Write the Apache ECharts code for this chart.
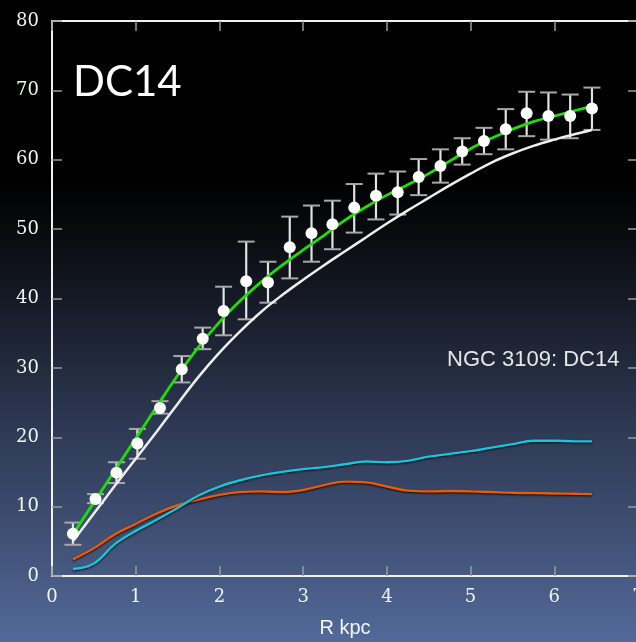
<!DOCTYPE html>
<html>
<head>
<meta charset="utf-8">
<script src="https://cdn.jsdelivr.net/npm/echarts@6/dist/echarts.min.js"></script>
<style>
  html, body { margin: 0; padding: 0; background: #000; }
  #chart { width: 636px; height: 642px; }
</style>
</head>
<body>
<div id="chart"></div>
<script>
// observed points: radius (kpc), velocity, error bar bottom / top
var radius = [0.25, 0.52, 0.77, 1.02, 1.29, 1.55, 1.80, 2.05, 2.32, 2.58, 2.84, 3.10, 3.35,
              3.61, 3.87, 4.13, 4.38, 4.64, 4.90, 5.16, 5.42, 5.67, 5.93, 6.19, 6.45];
var velocity = [6.1, 11.1, 14.9, 19.1, 24.2, 29.8, 34.2, 38.2, 42.5, 42.3, 47.4, 49.4, 50.7,
                53.1, 54.8, 55.3, 57.5, 59.1, 61.2, 62.7, 64.4, 66.7, 66.3, 66.3, 67.4];
var errLow = [4.5, 10.5, 13.4, 16.9, 23.4, 27.9, 32.7, 34.7, 37.0, 39.4, 42.9, 45.3, 47.1,
              49.5, 51.4, 52.1, 54.9, 56.7, 59.3, 60.8, 61.5, 63.4, 62.9, 63.1, 64.3];
var errHigh = [7.7, 11.8, 16.4, 21.2, 25.2, 31.7, 35.8, 41.7, 48.2, 45.3, 51.8, 53.4, 54.1,
               56.5, 58.0, 58.3, 60.1, 61.5, 63.1, 64.6, 67.3, 69.8, 69.7, 69.4, 70.4];

// model curves sampled on a common radius grid
var curveR = [0.25, 0.5, 0.75, 1, 1.25, 1.5, 1.75, 2, 2.25, 2.5, 2.75, 3, 3.25, 3.5, 3.75,
              4, 4.25, 4.5, 4.75, 5, 5.25, 5.5, 5.75, 6, 6.25, 6.45];
var fitTotal = [6.0, 10.6, 15.2, 19.8, 24.4, 28.9, 33.0, 36.6, 39.7, 42.4, 44.8, 47.0, 49.1,
                51.3, 53.2, 54.9, 56.4, 58.0, 59.8, 61.6, 63.1, 64.4, 65.5, 66.3, 67.1, 67.7];
var haloCurve = [5.0, 9.0, 13.0, 16.9, 20.8, 24.8, 28.7, 32.2, 35.3, 38.1, 40.5, 42.7, 44.8,
                 46.8, 48.8, 50.8, 52.7, 54.5, 56.3, 58.0, 59.6, 60.9, 62.0, 62.9, 63.7, 64.3];
var gasCurve = [1.0, 1.8, 4.6, 6.5, 8.1, 9.8, 11.6, 12.9, 13.8, 14.5, 15.0, 15.4, 15.7,
                16.1, 16.5, 16.4, 16.6, 17.2, 17.6, 18.0, 18.5, 19.0, 19.5, 19.5, 19.4, 19.4];
var starCurve = [2.4, 4.0, 6.0, 7.5, 9.0, 10.2, 11.0, 11.7, 12.1, 12.2, 12.1, 12.4, 13.1,
                 13.6, 13.5, 12.9, 12.3, 12.2, 12.25, 12.2, 12.1, 12.0, 11.95, 11.9, 11.85, 11.8];

var xTicks = [0, 7, 1];   // min, max, step
var yTicks = [0, 80, 10];

function pairs(xs, ys) {
  return xs.map(function (x, i) { return [x, ys[i]]; });
}

var chart = echarts.init(document.getElementById('chart'));

function axisLine() {
  return { onZero: false, lineStyle: { color: '#f2f2f2', width: 2 } };
}
function axisTick() {
  return { inside: true, length: 10, lineStyle: { color: '#9a9a9a', width: 1.5 } };
}
var labelStyle = { color: '#eef6ee', fontFamily: 'DejaVu Serif', fontSize: 18 };

function curve(name, data, color, width, withShadow) {
  var ls = { color: color, width: width };
  if (withShadow) {
    ls.shadowColor = 'rgba(0,0,0,0.85)';
    ls.shadowBlur = 2;
    ls.shadowOffsetY = 1;
  }
  return {
    name: name, type: 'line', data: pairs(curveR, data), smooth: 0.4,
    symbol: 'none', lineStyle: ls, z: 3, silent: true
  };
}

option = {
  backgroundColor: {
    type: 'linear', x: 0, y: 0, x2: 0, y2: 1,
    colorStops: [
      { offset: 0, color: '#000000' },
      { offset: 0.28, color: '#000000' },
      { offset: 0.405, color: '#0e1118' },
      { offset: 0.514, color: '#1b2130' },
      { offset: 0.67, color: '#2e3a55' },
      { offset: 0.825, color: '#3f4f72' },
      { offset: 1, color: '#52699a' }
    ]
  },
  animation: false,
  grid: { left: 52, right: -2, top: 21, bottom: 66, outerBoundsMode: 'none', containLabel: false },
  graphic: [
    { type: 'text', left: 73, top: 61, z: 10,
      style: { text: 'DC14', fill: '#ffffff', font: '42px Lato' } },
    { type: 'text', left: 447, top: 349, z: 10,
      style: { text: 'NGC 3109: DC14', fill: '#e6e6e6', font: '22px "Liberation Sans"' } }
  ],
  xAxis: [
    {
      type: 'value', position: 'bottom', min: xTicks[0], max: xTicks[1], interval: xTicks[2],
      axisLine: axisLine(), axisTick: axisTick(), splitLine: { show: false },
      axisLabel: Object.assign({ margin: 12 }, labelStyle),
      name: 'R kpc', nameLocation: 'middle', nameGap: 42,
      nameTextStyle: { color: '#f2f6f2', fontFamily: 'Liberation Sans', fontSize: 20 }
    },
    {
      type: 'value', position: 'top', min: xTicks[0], max: xTicks[1], interval: xTicks[2],
      axisLine: axisLine(), axisTick: axisTick(), splitLine: { show: false },
      axisLabel: { show: false }
    }
  ],
  yAxis: [
    {
      type: 'value', position: 'left', min: yTicks[0], max: yTicks[1], interval: yTicks[2],
      axisLine: axisLine(), axisTick: axisTick(), splitLine: { show: false },
      axisLabel: Object.assign({ margin: 13 }, labelStyle)
    },
    {
      type: 'value', position: 'right', min: yTicks[0], max: yTicks[1], interval: yTicks[2],
      axisLine: axisLine(), axisTick: axisTick(), splitLine: { show: false },
      axisLabel: { show: false }
    }
  ],
  series: [
    {
      type: 'custom', name: 'errors', z: 2, silent: true,
      data: radius.map(function (r, i) { return [r, errLow[i], errHigh[i]]; }),
      renderItem: function (params, api) {
        var lo = api.coord([api.value(0), api.value(1)]);
        var hi = api.coord([api.value(0), api.value(2)]);
        var hw = 8.5;
        return {
          type: 'group',
          children: [
            { type: 'line', shape: { x1: lo[0], y1: lo[1], x2: hi[0], y2: hi[1] },
              style: { stroke: '#e2e2e2', lineWidth: 2.2 } },
            { type: 'line', shape: { x1: lo[0] - hw, y1: lo[1], x2: lo[0] + hw, y2: lo[1] },
              style: { stroke: '#a8a8a8', lineWidth: 2 } },
            { type: 'line', shape: { x1: hi[0] - hw, y1: hi[1], x2: hi[0] + hw, y2: hi[1] },
              style: { stroke: '#a8a8a8', lineWidth: 2 } }
          ]
        };
      }
    },
    curve('halo', haloCurve, '#eeeeee', 2.5, false),
    curve('stars', starCurve, '#e85a0c', 2.4, true),
    curve('gas', gasCurve, '#18c6dc', 2.4, true),
    curve('total', fitTotal, '#22dd00', 2.8, false),
    {
      type: 'scatter', name: 'data', z: 5, silent: true,
      data: pairs(radius, velocity),
      symbol: 'circle', symbolSize: 12,
      itemStyle: { color: '#ffffff', opacity: 1 }
    }
  ]
};

chart.setOption(option);
</script>
</body>
</html>
